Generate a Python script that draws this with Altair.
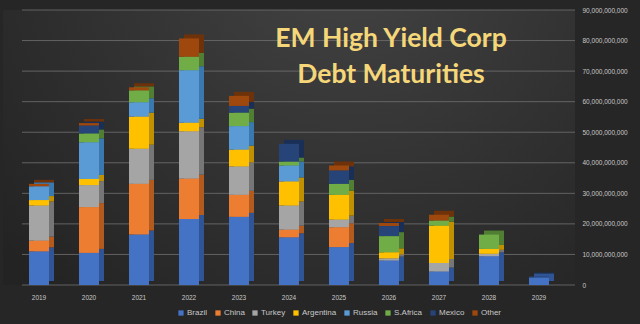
import altair as alt
import pandas as pd

years = ["2019", "2020", "2021", "2022", "2023", "2024", "2025", "2026", "2027", "2028", "2029"]
countries = ["Brazil", "China", "Turkey", "Argentina", "Russia", "S.Africa", "Mexico", "Other"]

# values in billions
brazil    = [11.0, 10.5, 16.5, 21.6, 22.3, 15.6, 12.4, 8.0, 4.4, 9.4, 2.5]
china     = [3.5, 15.0, 16.6, 13.2, 7.2, 2.5, 6.5, 0.0, 0.0, 0.0, 0.0]
turkey    = [11.5, 7.2, 11.5, 15.5, 9.3, 7.9, 2.5, 0.7, 2.8, 0.8, 0.0]
argentina = [1.8, 2.0, 10.5, 2.8, 5.5, 7.9, 8.1, 2.0, 12.2, 1.6, 0.0]
russia    = [4.5, 12.0, 4.7, 17.2, 7.7, 5.2, 0.0, 0.0, 0.0, 0.0, 0.0]
s_africa  = [0.0, 2.9, 3.9, 4.4, 4.4, 1.3, 3.6, 5.3, 1.7, 4.7, 0.0]
mexico    = [0.0, 2.6, 0.0, 0.0, 2.2, 5.8, 4.4, 3.3, 0.0, 0.0, 0.3]
other     = [0.8, 0.8, 1.0, 6.0, 3.3, 0.0, 1.6, 1.0, 1.9, 0.0, 0.0]

front_colors = ["#4472C4", "#ED7D31", "#A5A5A5", "#FFC000", "#5B9BD5", "#70AD47", "#264478", "#9E480E"]
side_colors = ["#2F5597", "#B35A1F", "#767676", "#BF9000", "#3A78B0", "#507E32", "#1A2F55", "#6E320A"]

tick_values = [0, 10e9, 20e9, 30e9, 40e9, 50e9, 60e9, 70e9, 80e9, 90e9]
title_lines = ["EM High Yield Corp", "Debt Maturities"]

series = [brazil, china, turkey, argentina, russia, s_africa, mexico, other]
rows = []
for i, (c, vals) in enumerate(zip(countries, series)):
    for yr, v in zip(years, vals):
        if v > 0:
            rows.append({"year": yr, "country": c, "idx": i, "value": v * 1e9, "side": side_colors[i]})
df = pd.DataFrame(rows)
grid_df = pd.DataFrame({"tick": tick_values})

W, H = 572, 275
label_color = "#c8c8c8"
FONT = "Liberation Sans"

x_axis = alt.Axis(title=None, labelAngle=0, ticks=False, domain=False, labelPadding=9,
                  labelColor=label_color, labelFontSize=6.5, labelFont=FONT, grid=False)
x_scale = alt.Scale(domain=years, paddingInner=0.6, paddingOuter=0.52)
y_axis = alt.Axis(title=None, orient="right", values=tick_values, format=",.0f", ticks=False,
                  domain=False, grid=False, labelPadding=7, labelColor=label_color,
                  labelFontSize=6.5, labelFont=FONT)
y_scale = alt.Scale(domain=[0, 90e9], nice=False)

bg = alt.Chart(pd.DataFrame({"a": [0]})).mark_rect(
    fill=alt.RadialGradient(
        gradient="radial",
        stops=[alt.GradientStop(color="#444444", offset=0),
               alt.GradientStop(color="#333333", offset=0.5),
               alt.GradientStop(color="#232323", offset=1)],
        x1=0.6, y1=0.15, r1=0, x2=0.6, y2=0.15, r2=0.8),
).encode(x=alt.value(0), x2=alt.value("width"), y=alt.value(0), y2=alt.value("height"))

grid = alt.Chart(grid_df).mark_rule(color="#707070", strokeWidth=1, opacity=0.8).encode(
    y=alt.Y("tick:Q", scale=y_scale, axis=y_axis),
    x=alt.value(19), x2=alt.value("width"),
)

shadow = alt.Chart(df).mark_bar(xOffset=5, yOffset=-4).encode(
    x=alt.X("year:N", scale=x_scale, axis=x_axis),
    y=alt.Y("value:Q", stack="zero", scale=y_scale, axis=y_axis),
    fill=alt.Fill("side:N", scale=None, legend=None),
    order=alt.Order("idx:Q", sort="ascending"),
)

front = alt.Chart(df).mark_bar().encode(
    x=alt.X("year:N", scale=x_scale, axis=x_axis),
    y=alt.Y("value:Q", stack="zero", scale=y_scale, axis=y_axis),
    color=alt.Color("country:N", scale=alt.Scale(domain=countries, range=front_colors),
                    legend=alt.Legend(orient="none", legendX=174, legendY=299, direction="horizontal",
                                      title=None, symbolType="square", symbolSize=28,
                                      symbolStrokeWidth=0, labelFontSize=8, labelFont=FONT,
                                      labelColor=label_color, columnPadding=6, labelOffset=2)),
    order=alt.Order("idx:Q", sort="ascending"),
)

title = alt.Chart(pd.DataFrame({"a": [0]})).mark_text(
    text=title_lines, lineHeight=36, fontSize=26.5, font="Lato", fontWeight="bold",
    color="#F5D77A", align="center", baseline="alphabetic",
).encode(x=alt.value(388), y=alt.value(37))

chart = alt.layer(bg, grid, shadow, front, title).properties(
    width=W, height=H,
    background="#262626",
    padding={"left": 3, "top": 10, "right": 65, "bottom": 39},
    autosize=alt.AutoSizeParams(type="none"),
).configure_view(stroke=None)

chart.save("out.html", embed_options={"renderer": "svg", "actions": False})
